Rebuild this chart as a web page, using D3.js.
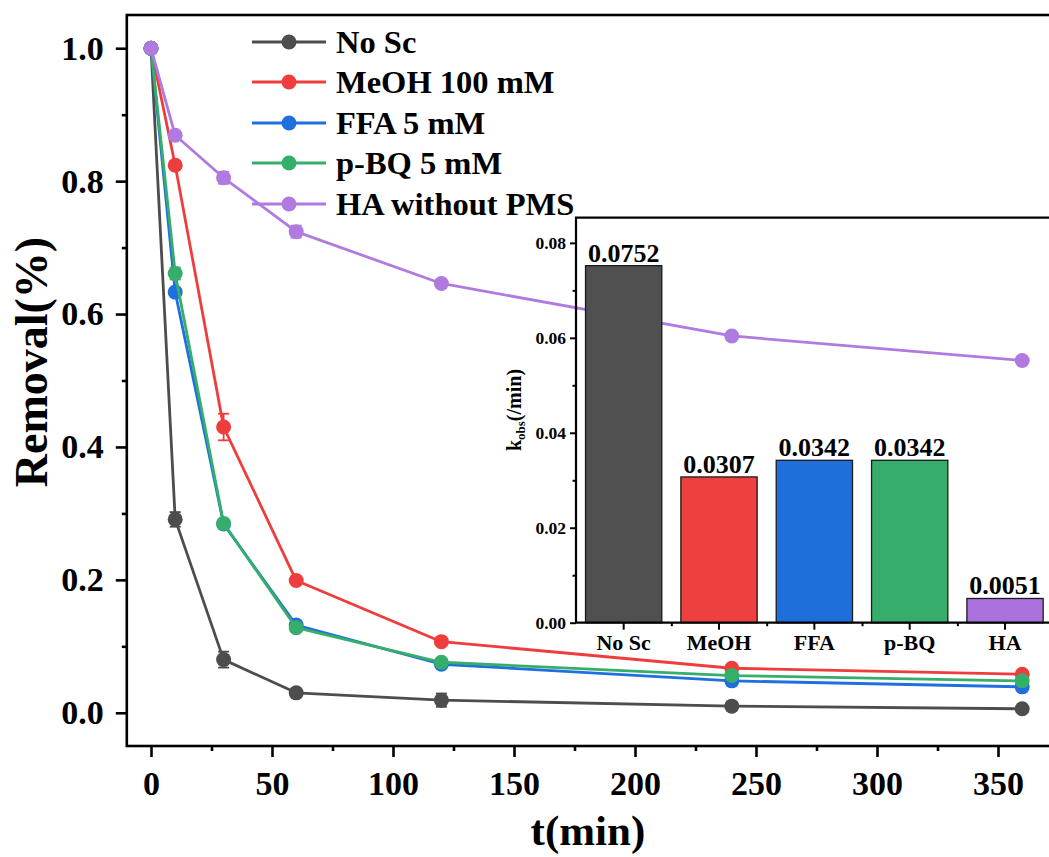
<!DOCTYPE html>
<html>
<head>
<meta charset="utf-8">
<script src="https://cdn.jsdelivr.net/npm/d3@7/dist/d3.min.js"></script>
<style>
  html, body { margin: 0; padding: 0; background: #fff; }
  svg { display: block; }
  text { font-family: "Liberation Serif", "Times New Roman", serif; font-weight: bold; fill: #000; }
</style>
</head>
<body>
<svg id="chart" width="1049" height="857"></svg>
<script>
// Sampling times (min)
const times = [0, 10, 30, 60, 120, 240, 360];

// Removal curves, one array per condition
const noScValues  = [1.000, 0.291, 0.080, 0.030, 0.019, 0.010, 0.006];
const meohValues  = [1.000, 0.824, 0.430, 0.199, 0.107, 0.067, 0.058];
const ffaValues   = [1.000, 0.633, 0.284, 0.132, 0.073, 0.048, 0.039];
const pbqValues   = [1.000, 0.661, 0.285, 0.128, 0.076, 0.056, 0.048];
const haValues    = [1.000, 0.869, 0.805, 0.724, 0.646, 0.567, 0.530];

// Standard deviations for the error bars
const noScErr = [0, 0.011, 0.012, 0.005, 0.010, 0.006, 0.003];
const meohErr = [0, 0.006, 0.020, 0.005, 0.005, 0.004, 0.004];
const ffaErr  = [0, 0.005, 0.005, 0.006, 0.005, 0.006, 0.005];
const pbqErr  = [0, 0.009, 0.006, 0.006, 0.006, 0.004, 0.004];
const haErr   = [0, 0.006, 0.009, 0.009, 0.005, 0.004, 0.004];

const seriesNames = ["No Sc", "MeOH 100 mM", "FFA 5 mM", "p-BQ 5 mM", "HA without PMS"];
const seriesColors = ["#4d4d4d", "#ef3c3c", "#1f6fde", "#35ad6b", "#b07ae0"];

// Inset: pseudo-first-order rate constants
const rateCategories = ["No Sc", "MeOH", "FFA", "p-BQ", "HA"];
const rateValues = [0.0752, 0.0307, 0.0342, 0.0342, 0.0051];
const rateLabels = ["0.0752", "0.0307", "0.0342", "0.0342", "0.0051"];
const barColors = ["#505050", "#ef4040", "#1e6fdc", "#36ad6b", "#ab72de"];

// Axis ticks
const xTicks = [0, 50, 100, 150, 200, 250, 300, 350];
const xMinorTicks = [25, 75, 125, 175, 225, 275, 325];
const yTicks = [0.0, 0.2, 0.4, 0.6, 0.8, 1.0];
const yMinorTicks = [0.1, 0.3, 0.5, 0.7, 0.9];
const insetYTicks = [0, 0.02, 0.04, 0.06, 0.08];
const insetYMinorTicks = [0.01, 0.03, 0.05, 0.07];

const errs = [noScErr, meohErr, ffaErr, pbqErr, haErr];
const series = [noScValues, meohValues, ffaValues, pbqValues, haValues].map((vals, i) => ({
  name: seriesNames[i],
  color: seriesColors[i],
  points: vals.map((v, j) => ({ t: times[j], v: v, e: errs[i][j] }))
}));

const svg = d3.select("#chart");
svg.append("rect").attr("width", 1049).attr("height", 857).attr("fill", "#fff");

// ---- Main plot ----
const plot = { left: 126.8, right: 1058.5, top: 15, bottom: 746 };
const x = d3.scaleLinear().domain([-10, 375]).range([plot.left, plot.right]);
const y = d3.scaleLinear().domain([-0.05, 1.05]).range([plot.bottom, plot.top]);

const axisStroke = 2.6;

// Curves with error bars and markers
const line = d3.line().x(d => x(d.t)).y(d => y(d.v));
const curves = svg.append("g");
series.forEach(s => {
  const g = curves.append("g");
  g.append("path").datum(s.points)
    .attr("d", line).attr("fill", "none")
    .attr("stroke", s.color).attr("stroke-width", 2.8).attr("stroke-linejoin", "round");
  const eb = g.selectAll(".eb").data(s.points.filter(p => p.e > 0)).enter().append("g");
  eb.append("line")
    .attr("x1", d => x(d.t)).attr("x2", d => x(d.t))
    .attr("y1", d => y(d.v - d.e)).attr("y2", d => y(d.v + d.e))
    .attr("stroke", s.color).attr("stroke-width", 1.8);
  [-1, 1].forEach(sign => {
    eb.append("line")
      .attr("x1", d => x(d.t) - 5.5).attr("x2", d => x(d.t) + 5.5)
      .attr("y1", d => y(d.v + sign * d.e)).attr("y2", d => y(d.v + sign * d.e))
      .attr("stroke", s.color).attr("stroke-width", 1.8);
  });
  g.selectAll("circle").data(s.points).enter().append("circle")
    .attr("cx", d => x(d.t)).attr("cy", d => y(d.v)).attr("r", 7.5)
    .attr("fill", s.color);
});

// Frame and axes
const xAxis = d3.axisBottom(x).tickValues(xTicks).tickSize(11).tickPadding(14).tickFormat(d3.format("d"));
const xMinor = d3.axisBottom(x).tickValues(xMinorTicks).tickSize(5).tickFormat("");
const yAxis = d3.axisLeft(y).tickValues(yTicks).tickSize(11).tickPadding(12).tickFormat(d3.format(".1f"));
const yMinor = d3.axisLeft(y).tickValues(yMinorTicks).tickSize(5).tickFormat("");

function styleAxis(g, fontSize, width) {
  g.select(".domain").remove();
  g.selectAll(".tick line").attr("stroke", "#000").attr("stroke-width", width);
  g.selectAll(".tick text").attr("font-size", fontSize)
    .attr("font-family", "'Liberation Serif', 'Times New Roman', serif")
    .attr("font-weight", "bold").attr("fill", "#000");
}

svg.append("g").attr("transform", `translate(0,${plot.bottom})`).call(xAxis).call(g => styleAxis(g, 34, axisStroke));
svg.append("g").attr("transform", `translate(0,${plot.bottom})`).call(xMinor).call(g => styleAxis(g, 34, axisStroke));
svg.append("g").attr("transform", `translate(${plot.left},0)`).call(yAxis).call(g => styleAxis(g, 34, axisStroke));
svg.append("g").attr("transform", `translate(${plot.left},0)`).call(yMinor).call(g => styleAxis(g, 34, axisStroke));

svg.append("rect")
  .attr("x", plot.left).attr("y", plot.top)
  .attr("width", plot.right - plot.left).attr("height", plot.bottom - plot.top)
  .attr("fill", "none").attr("stroke", "#000").attr("stroke-width", axisStroke);

// Axis titles
svg.append("text").attr("x", (plot.left + 1049) / 2).attr("y", 845)
  .attr("text-anchor", "middle").attr("font-size", 43).text("t(min)");
svg.append("text").attr("transform", "translate(47,362) rotate(-90)")
  .attr("text-anchor", "middle").attr("font-size", 46).text("Removal(%)");

// Legend
const legend = svg.append("g");
const legendRows = [42, 82, 123, 163, 204];
series.forEach((s, i) => {
  const ly = legendRows[i];
  legend.append("line").attr("x1", 252).attr("x2", 326).attr("y1", ly).attr("y2", ly)
    .attr("stroke", s.color).attr("stroke-width", 2.8);
  legend.append("circle").attr("cx", 289).attr("cy", ly).attr("r", 7.5).attr("fill", s.color);
  legend.append("text").attr("x", 336).attr("y", ly + 11).attr("font-size", 32.5).text(s.name);
});

// ---- Inset bar chart ----
const inset = { left: 576, right: 1052.7, top: 217.7, bottom: 622.7 };
const xb = d3.scaleBand().domain(rateCategories).range([inset.left, inset.right])
  .paddingInner(0.2).paddingOuter(0.1);
const yb = d3.scaleLinear().domain([0, 0.0853]).range([inset.bottom, inset.top]);
const ig = svg.append("g");

ig.selectAll("rect.bar").data(rateValues).enter().append("rect")
  .attr("class", "bar")
  .attr("x", (d, i) => xb(rateCategories[i]))
  .attr("y", d => yb(d))
  .attr("width", xb.bandwidth())
  .attr("height", d => yb(0) - yb(d))
  .attr("fill", (d, i) => barColors[i])
  .attr("stroke", "#1a1a1a").attr("stroke-width", 1.3);

ig.selectAll("text.val").data(rateValues).enter().append("text")
  .attr("class", "val")
  .attr("x", (d, i) => xb(rateCategories[i]) + xb.bandwidth() / 2)
  .attr("y", d => yb(d) - 4)
  .attr("text-anchor", "middle").attr("font-size", 26)
  .text((d, i) => rateLabels[i]);

const step = xb.step();
const boundaries = rateCategories.map((c, i) => inset.left + step * (i + 1));
const ixAxis = d3.axisBottom(xb).tickSize(7).tickPadding(5);
const ixMinor = d3.axisBottom(d3.scaleLinear().domain([inset.left, inset.right]).range([inset.left, inset.right]))
  .tickValues(boundaries).tickSize(3.5).tickFormat("");
const iyAxis = d3.axisLeft(yb).tickValues(insetYTicks).tickSize(6).tickPadding(4).tickFormat(d3.format(".2f"));
const iyMinor = d3.axisLeft(yb).tickValues(insetYMinorTicks).tickSize(3.5).tickFormat("");

ig.append("g").attr("transform", `translate(0,${inset.bottom})`).call(ixAxis).call(g => styleAxis(g, 22, 2));
ig.append("g").attr("transform", `translate(0,${inset.bottom})`).call(ixMinor).call(g => styleAxis(g, 22, 2));
ig.append("g").attr("transform", `translate(${inset.left},0)`).call(iyAxis).call(g => styleAxis(g, 17.5, 2));
ig.append("g").attr("transform", `translate(${inset.left},0)`).call(iyMinor).call(g => styleAxis(g, 17.5, 2));

ig.append("path")
  .attr("d", `M${inset.right},${inset.top}H${inset.left}V${inset.bottom}H${inset.right}`)
  .attr("fill", "none").attr("stroke", "#000").attr("stroke-width", 2.2);

const kLabel = ig.append("text").attr("transform", "translate(521,410) rotate(-90)")
  .attr("text-anchor", "middle").attr("font-size", 20);
kLabel.append("tspan").text("k");
kLabel.append("tspan").attr("font-size", 13).attr("dy", 4).text("obs");
kLabel.append("tspan").attr("dy", -4).text("(/min)");
</script>
</body>
</html>
